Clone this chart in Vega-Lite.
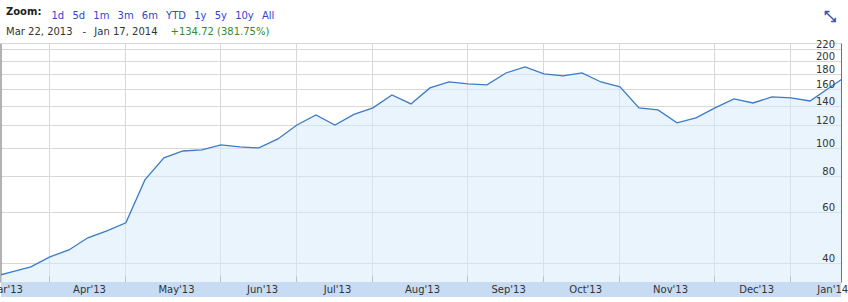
{
  "$schema": "https://vega.github.io/schema/vega-lite/v6.json",
  "width": 840,
  "height": 239,
  "autosize": {"type": "none"},
  "padding": {"left": 1, "top": 43, "right": 7, "bottom": 20},
  "background": "white",
  "config": {"view": {"stroke": null}, "font": "DejaVu Sans"},
  "title": {
    "text": "Zoom:",
    "subtitle": "\u2009Mar 22, 2013\u2002\u2002-\u2002\u00a0Jan 17, 2014",
    "anchor": "start",
    "frame": "group",
    "dx": 5,
    "offset": -29,
    "font": "DejaVu Sans",
    "fontSize": 10,
    "fontWeight": "bold",
    "color": "#222222",
    "subtitleFont": "DejaVu Sans",
    "subtitleFontSize": 10,
    "subtitleColor": "#333333",
    "subtitlePadding": 10
  },
  "data": {
    "values": [
      {"date": "2013-03-15T00:00:00", "price": 35.9},
      {"date": "2013-03-22T00:00:00", "price": 37.4},
      {"date": "2013-03-29T00:00:00", "price": 38.9},
      {"date": "2013-04-05T00:00:00", "price": 42.1},
      {"date": "2013-04-12T00:00:00", "price": 44.5},
      {"date": "2013-04-19T00:00:00", "price": 49.0},
      {"date": "2013-04-26T00:00:00", "price": 51.8},
      {"date": "2013-05-03T00:00:00", "price": 55.2},
      {"date": "2013-05-10T00:00:00", "price": 77.6},
      {"date": "2013-05-17T00:00:00", "price": 92.4},
      {"date": "2013-05-24T00:00:00", "price": 97.6},
      {"date": "2013-05-31T00:00:00", "price": 98.4},
      {"date": "2013-06-07T00:00:00", "price": 102.4},
      {"date": "2013-06-14T00:00:00", "price": 100.8},
      {"date": "2013-06-21T00:00:00", "price": 100.0},
      {"date": "2013-06-28T00:00:00", "price": 107.4},
      {"date": "2013-07-05T00:00:00", "price": 120.0},
      {"date": "2013-07-12T00:00:00", "price": 129.9},
      {"date": "2013-07-19T00:00:00", "price": 120.0},
      {"date": "2013-07-26T00:00:00", "price": 130.5},
      {"date": "2013-08-02T00:00:00", "price": 137.4},
      {"date": "2013-08-09T00:00:00", "price": 152.3},
      {"date": "2013-08-16T00:00:00", "price": 141.8},
      {"date": "2013-08-23T00:00:00", "price": 161.0},
      {"date": "2013-08-30T00:00:00", "price": 168.8},
      {"date": "2013-09-06T00:00:00", "price": 166.2},
      {"date": "2013-09-13T00:00:00", "price": 164.9},
      {"date": "2013-09-20T00:00:00", "price": 181.3},
      {"date": "2013-09-27T00:00:00", "price": 190.2},
      {"date": "2013-10-04T00:00:00", "price": 179.9},
      {"date": "2013-10-11T00:00:00", "price": 177.1},
      {"date": "2013-10-18T00:00:00", "price": 181.3},
      {"date": "2013-10-25T00:00:00", "price": 168.8},
      {"date": "2013-11-01T00:00:00", "price": 162.3},
      {"date": "2013-11-08T00:00:00", "price": 137.4},
      {"date": "2013-11-15T00:00:00", "price": 135.2},
      {"date": "2013-11-22T00:00:00", "price": 122.0},
      {"date": "2013-11-29T00:00:00", "price": 126.9},
      {"date": "2013-12-06T00:00:00", "price": 137.4},
      {"date": "2013-12-13T00:00:00", "price": 147.5},
      {"date": "2013-12-20T00:00:00", "price": 142.9},
      {"date": "2013-12-27T00:00:00", "price": 149.9},
      {"date": "2014-01-03T00:00:00", "price": 148.7},
      {"date": "2014-01-10T00:00:00", "price": 145.2},
      {"date": "2014-01-17T00:00:00", "price": 161.0},
      {"date": "2014-01-24T00:00:00", "price": 178.5}
    ]
  },
  "layer": [
    {
      "data": {"values": [{"band": "axis"}]},
      "mark": {"type": "rect", "color": "#c7dbf3"},
      "encoding": {
        "y": {"datum": 34.5, "type": "quantitative", "axis": null},
        "y2": {"datum": 30.63}
      }
    },
    {
      "mark": {"type": "area", "color": "#d4e9fc", "fillOpacity": 0.5, "clip": true},
      "encoding": {
        "x": {
          "field": "date",
          "type": "temporal",
          "scale": {
            "domain": [
              {"year": 2013, "month": 3, "date": 18},
              {"year": 2014, "month": 1, "date": 21, "hours": 10}
            ],
            "nice": false
          },
          "axis": {
            "orient": "bottom",
            "values": [
              {"year": 2013, "month": 3, "date": 19, "hours": 13},
              {"year": 2013, "month": 4, "date": 19, "hours": 10},
              {"year": 2013, "month": 5, "date": 21, "hours": 11},
              {"year": 2013, "month": 6, "date": 22, "hours": 4},
              {"year": 2013, "month": 7, "date": 19, "hours": 19},
              {"year": 2013, "month": 8, "date": 20, "hours": 2},
              {"year": 2013, "month": 9, "date": 20, "hours": 19},
              {"year": 2013, "month": 10, "date": 19, "hours": 4},
              {"year": 2013, "month": 11, "date": 19, "hours": 11},
              {"year": 2013, "month": 12, "date": 21, "hours": 4},
              {"year": 2014, "month": 1, "date": 18, "hours": 4}
            ],
            "labelExpr": "timeFormat(datum.value, \"%b'%y\")",
            "grid": false,
            "ticks": false,
            "tickSize": 0,
            "domain": false,
            "labelPadding": 7.5,
            "labelBaseline": "middle",
            "labelFont": "DejaVu Sans",
            "labelFontSize": 10,
            "labelColor": "#333333",
            "labelFlush": false,
            "labelOverlap": false,
            "labelBound": false,
            "title": null,
            "zindex": 1
          }
        },
        "y": {
          "field": "price",
          "type": "quantitative",
          "scale": {"type": "log", "domain": [34.5, 230], "nice": false, "zero": false},
          "axis": {
            "orient": "right",
            "values": [40, 60, 80, 100, 120, 140, 160, 180, 200, 220],
            "labelExpr": "datum.value",
            "grid": false,
            "ticks": false,
            "tickSize": 0,
            "domain": true,
            "domainColor": "#707070",
            "labelAlign": "right",
            "labelBaseline": "alphabetic",
            "labelPadding": -6.5,
            "labelOffset": -1.5,
            "labelFont": "DejaVu Sans",
            "labelFontSize": 10,
            "labelColor": "#333333",
            "labelFlush": false,
            "labelOverlap": false,
            "labelBound": false,
            "title": "1d\u2002\u00a05d\u2002\u00a01m\u2002\u00a03m\u2002\u00a06m\u2002\u00a0YTD\u2002\u00a01y\u2002\u00a05y\u2002\u00a010y\u2002\u00a0All",
            "titleAngle": 0,
            "titleX": -790,
            "titleY": -28,
            "titleAlign": "left",
            "titleBaseline": "middle",
            "titleFont": "DejaVu Sans",
            "titleFontSize": 10,
            "titleFontWeight": "normal",
            "titleColor": "#3344cc",
            "zindex": 1
          }
        },
        "y2": {"datum": 34.5}
      }
    },
    {
      "mark": {"type": "line", "color": "#3b7bc8", "strokeWidth": 1.3, "clip": true},
      "encoding": {
        "x": {
          "field": "date",
          "type": "temporal",
          "axis": {
            "orient": "top",
            "offset": -239,
            "values": [
              {"year": 2013, "month": 4, "date": 4, "hours": 14},
              {"year": 2013, "month": 5, "date": 2, "hours": 14},
              {"year": 2013, "month": 6, "date": 6, "hours": 14},
              {"year": 2013, "month": 7, "date": 4, "hours": 14},
              {"year": 2013, "month": 8, "date": 1, "hours": 14},
              {"year": 2013, "month": 9, "date": 5, "hours": 14},
              {"year": 2013, "month": 10, "date": 3, "hours": 14},
              {"year": 2013, "month": 10, "date": 31, "hours": 14},
              {"year": 2013, "month": 12, "date": 5, "hours": 14},
              {"year": 2014, "month": 1, "date": 2, "hours": 14}
            ],
            "grid": true,
            "gridColor": "#d8d8d8",
            "ticks": true,
            "tickSize": 6,
            "tickColor": "#999999",
            "labels": false,
            "domain": false,
            "title": "\u2921",
            "titleX": 828,
            "titleY": -267,
            "titleAngle": 0,
            "titleAlign": "center",
            "titleBaseline": "middle",
            "titleFont": "DejaVu Sans",
            "titleFontSize": 15,
            "titleFontWeight": "bold",
            "titleColor": "#3355bb",
            "zindex": 0
          }
        },
        "y": {
          "field": "price",
          "type": "quantitative",
          "axis": {
            "orient": "left",
            "offset": 0.5,
            "values": [40, 60, 80, 100, 120, 140, 160, 180, 200, 220, 230],
            "grid": true,
            "gridColor": "#d8d8d8",
            "ticks": false,
            "labels": false,
            "domain": true,
            "domainColor": "#666666",
            "title": "+134.72 (381.75%)",
            "titleAngle": 0,
            "titleX": 169.5,
            "titleY": -12,
            "titleAlign": "left",
            "titleBaseline": "middle",
            "titleFont": "DejaVu Sans",
            "titleFontSize": 10,
            "titleFontWeight": "normal",
            "titleColor": "#2e8b2e",
            "zindex": 0
          }
        }
      }
    }
  ]
}
